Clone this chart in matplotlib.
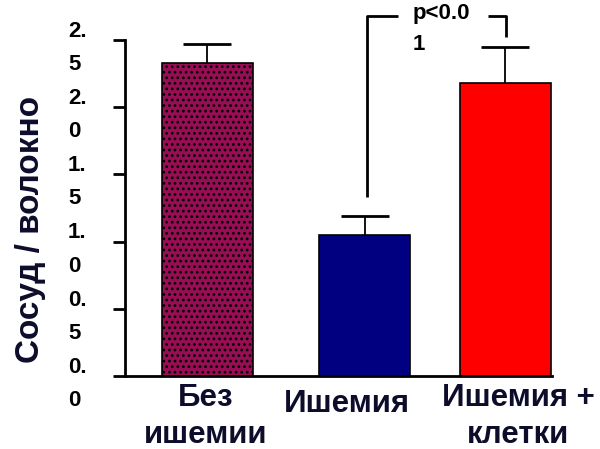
import numpy as np
import matplotlib
matplotlib.use("Agg")
import matplotlib.pyplot as plt
import matplotlib.transforms as mtransforms

plt.rcParams['font.family'] = ['Liberation Sans', 'DejaVu Sans']
plt.rcParams['font.weight'] = 'bold'
plt.rcParams['hatch.color'] = "#5e0530"
plt.rcParams['hatch.linewidth'] = 1.2

# data
categories = ["Без\nишемии", "Ишемия", "Ишемия +\nклетки"]
values = [2.33, 1.05, 2.18]
errors = [0.14, 0.14, 0.27]
bar_colors = ["#970e54", "#000080", "#ff0000"]
ytick_values = [0.0, 0.5, 1.0, 1.5, 2.0, 2.5]
ytick_labels = ["0.\n0", "0.\n5", "1.\n0", "1.\n5", "2.\n0", "2.\n5"]
p_text = "p<0.0\n1"

text_color = "#0d0d2b"

# layout
bar_pos = [0.0, 1.0, 1.892]
label_pos = [-0.01, 0.89, 1.975]
bar_width = 0.578

fig = plt.figure(figsize=(6.0, 4.49), dpi=100)
ax = fig.add_axes([125 / 600, 1 - 376 / 449, 427 / 600, 336 / 449])

bars = ax.bar(bar_pos, values, width=bar_width, color=bar_colors,
              edgecolor="black", linewidth=1.2, zorder=2)
# dotted texture on the first bar
bars[0].set_hatch("...")

# upper error bars only
tops = [v + e for v, e in zip(values, errors)]
ax.vlines(bar_pos, values, tops, color="black", lw=1.3, zorder=3)
ax.plot(bar_pos, tops, ls="none", marker="_", markersize=34,
        markeredgewidth=2, color="black", zorder=3)

ax.set_xlim(-0.521, 2.19)
ax.set_ylim(0, 2.5)

for s in ["top", "right"]:
    ax.spines[s].set_visible(False)
for s in ["left", "bottom"]:
    ax.spines[s].set_linewidth(2)

ax.set_yticks(ytick_values)
ax.set_yticklabels(ytick_labels, fontsize=16, fontweight="bold",
                   ha="left", va="baseline", color="black", linespacing=1.76)
ax.tick_params(axis="y", length=9, width=2, pad=32)
down = mtransforms.ScaledTranslation(0, -30 / 100, fig.dpi_scale_trans)
for t in ax.get_yticklabels():
    t.set_transform(t.get_transform() + down)

ax.set_xticks(label_pos)
ax.set_xticklabels(categories, fontsize=22.5, fontweight="bold",
                   color=text_color, linespacing=1.3)
ax.tick_params(axis="x", length=0, pad=5)
lbl = ax.get_xticklabels()[1]
lbl.set_transform(lbl.get_transform() + mtransforms.ScaledTranslation(0, -6 / 100, fig.dpi_scale_trans))

ax.set_ylabel("Сосуд / волокно", fontsize=24, fontweight="bold",
              color=text_color)
ax.yaxis.set_label_coords(-0.185, 0.435)

# significance bracket between Ишемия and Ишемия + клетки
x_left = bar_pos[1] + 0.014
x_right = bar_pos[2] + 0.005
y_top = 2.68
ax.plot([x_left, x_left, x_left + 0.2], [tops[1] + 0.14, y_top, y_top],
        color="black", lw=2, clip_on=False, solid_capstyle="butt")
ax.plot([x_right - 0.113, x_right, x_right], [y_top, y_top, tops[2] + 0.07],
        color="black", lw=2, clip_on=False, solid_capstyle="butt")
ax.text(x_left + 0.288, 2.426, p_text, fontsize=16, fontweight="bold",
        ha="left", va="baseline", color="black", linespacing=1.63)

fig.savefig("out.png", dpi=100)
